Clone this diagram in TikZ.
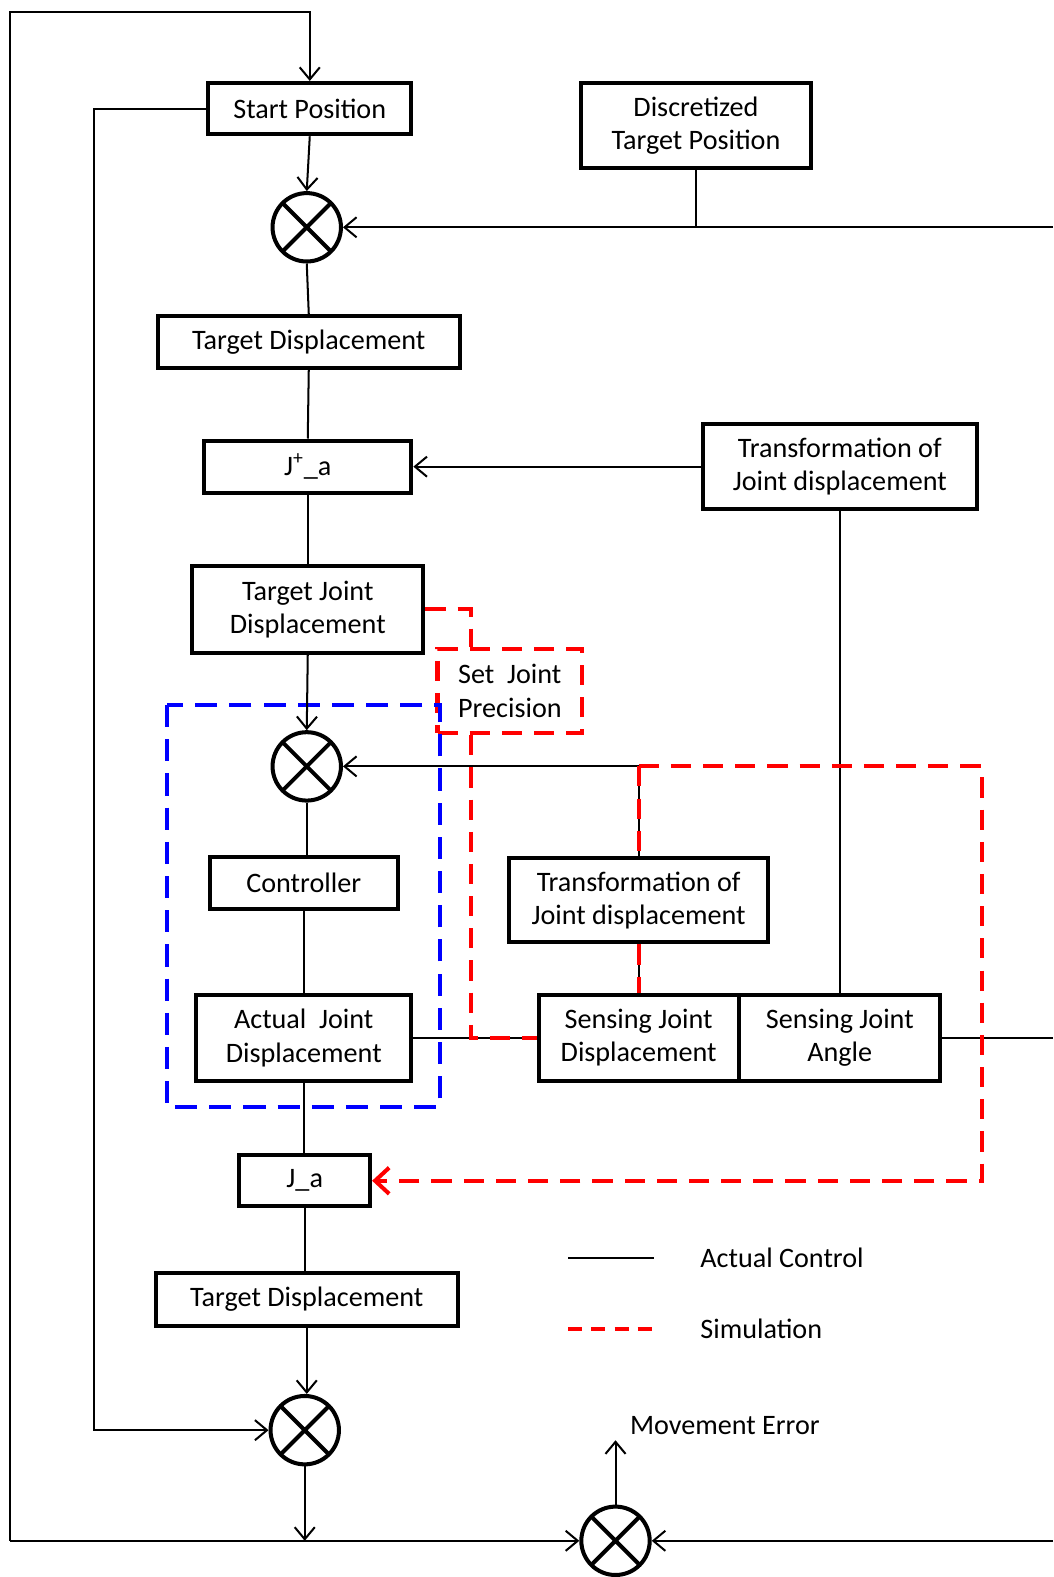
\documentclass[tikz,border=0pt]{standalone}
\usepackage{fontspec}
\setmainfont{Carlito}
\usetikzlibrary{arrows.meta}

\tikzset{
  blk/.style={draw, line width=2pt, align=center, inner sep=0pt,
    font=\fontsize{14}{16.5}\selectfont},
  sumpt/.style={circle, draw, line width=2pt, minimum size=34pt, inner sep=0pt,
    path picture={\draw[line width=2pt]
      (path picture bounding box.north west) -- (path picture bounding box.south east)
      (path picture bounding box.north east) -- (path picture bounding box.south west);}},
  link/.style={line width=1pt},
  arr/.style={link, -{Straight Barb[length=6pt, width=10pt, line width=1pt]}},
  simu/.style={draw=red, line width=2pt, dash pattern=on 10pt off 6pt},
  simarr/.style={simu, -{Straight Barb[length=7pt, width=13pt, line width=2pt]}},
  ctrlloop/.style={draw=blue, line width=2pt, dash pattern=on 11pt off 6pt},
  lbl/.style={anchor=west, inner sep=0pt, font=\fontsize{14}{16.5}\selectfont},
}

\begin{document}
\begin{tikzpicture}[x=0.5pt, y=-0.5pt]
  \useasboundingbox (0,0) rectangle (1047,1568);

  % Summing points
  \foreach \nm/\px/\py in {sumA/305/226, sumB/305/762, sumC/303/1422, sumD/612/1532}
    \node[sumpt] (\nm) at (\px,\py) {};

  % Main chain
  \node[blk, minimum width=101pt, minimum height=25.5pt] (start) at (308,108) {Start Position};
  \node[blk, minimum width=114.5pt, minimum height=42.5pt] (disc) at (692,125) {Discretized\\Target Position};
  \node[blk, minimum width=150pt, minimum height=26pt] (tdA) at (307,340) {Target Displacement};
  \node[blk, minimum width=103pt, minimum height=26pt] (jplus) at (306,464) {J\textsuperscript{+}\_a};
  \node[blk, minimum width=136pt, minimum height=42.5pt] (transA) at (835,464) {Transformation of\\Joint displacement};
  \node[blk, minimum width=115pt, minimum height=43pt] (tjd) at (306,606) {Target Joint\\Displacement};
  \node[blk, simu, align=left, minimum width=72pt, minimum height=42pt] (prec) at (507,687) {Set~ Joint\\Precision};

  % Joint loop
  \node[blk, minimum width=93.5pt, minimum height=25.5pt] (ctrl) at (302,878) {Controller};
  \node[blk, minimum width=107pt, minimum height=42.5pt] (ajd) at (302,1032) {Actual~ Joint\\Displacement};
  \node[blk, minimum width=129pt, minimum height=42pt] (transB) at (635,895) {Transformation of\\Joint displacement};
  \node[blk, minimum width=99.5pt, minimum height=42.5pt] (sjd) at (635,1032) {Sensing Joint\\Displacement};
  \node[blk, minimum width=100pt, minimum height=42.5pt] (sja) at (835,1032) {Sensing Joint\\Angle};

  % Output chain
  \node[blk, minimum width=65pt, minimum height=25.5pt] (ja) at (303,1174) {J\_a};
  \node[blk, minimum width=150pt, minimum height=26pt] (tdB) at (305,1292) {Target Displacement};

  % Free ends at the right edge and the outer loop corners
  \coordinate (rA) at (1047,226);
  \coordinate (rS) at (1047,1032);
  \coordinate (rD) at (1047,1532);
  \coordinate (lb) at (10,1532);
  \coordinate (lt) at (10,12);
  \coordinate (jC) at (303,1532);
  \coordinate (jB) at (635,762);
  \coordinate (merr) at (612,1432);

  % Joint control region
  \draw[ctrlloop] (166,701) rectangle (437,1101);

  % Actual control connectors
  \draw[arr] (lb) -- (lt) -| (start.north);
  \draw[arr] (start.west) -- ++(-112,0) |- (sumC.west);
  \draw[arr] (start.south) -- (sumA.north);
  \draw[link] (disc.south) -- (disc.south |- sumA);
  \draw[arr] (rA) -- (sumA.east);
  \draw[link] (sumA.south) -- (tdA.north);
  \draw[link] (tdA.south) -- (jplus.north);
  \draw[arr] (transA.west) -- (jplus.east);
  \draw[link] (jplus.south) -- (tjd.north);
  \draw[arr] (tjd.south) -- (sumB.north);
  \draw[link] (sumB.south) -- (sumB.south |- ctrl.north);
  \draw[link] (ctrl.south) -- (ctrl.south |- ajd.north);
  \draw[link] (ajd.south) -- (ajd.south |- ja.north);
  \draw[link] (ja.south) -- (ja.south |- tdB.north);
  \draw[arr] (tdB.south) -- (tdB.south |- sumC.north);
  \draw[arr] (sumC.south) -- (jC);
  \draw[arr] (lb) -- (sumD.west);
  \draw[arr] (rD) -- (sumD.east);
  \draw[arr] (sumD.north) -- (merr);
  \draw[arr] (jB) -- (sumB.east);
  \draw[link] (jB) -- (transB.north);
  \draw[link] (transB.south) -- (sjd.north);
  \draw[link] (ajd.east) -- (sjd.west);
  \draw[link] (transA.south) -- (sja.north);
  \draw[link] (sja.east) -- (rS);

  % Simulation connectors
  \draw[simu] (tjd.east) -| ([xshift=17.5pt]prec.north west);
  \draw[simu] ([xshift=17.5pt]prec.south west) |- (sjd.west);
  \draw[simu] (jB) -- (transB.north);
  \draw[simu] (transB.south) -- (sjd.north);
  \draw[simarr] (jB) -- ++(341,0) |- (ja.east);

  \node[lbl] (mlbl) at (626,1417) {Movement Error};

  % Legend
  \coordinate (acta) at (565,1251);
  \coordinate (actb) at (650,1251);
  \coordinate (sima) at (565,1321);
  \coordinate (simb) at (650,1321);
  \draw[link] (acta) -- (actb);
  \draw[simu, dash pattern=on 7pt off 4.5pt] (sima) -- (simb);
  \node[lbl] (actlbl) at (696,1251) {Actual Control};
  \node[lbl] (simlbl) at (696,1321) {Simulation};
\end{tikzpicture}
\end{document}
